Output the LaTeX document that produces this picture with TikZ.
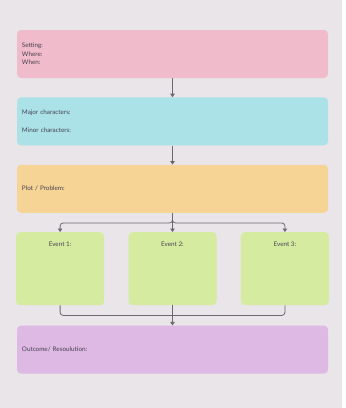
\documentclass[tikz,border=0pt]{standalone}
\usepackage{fontspec}
\setmainfont{Lato}
\usepackage{xcolor}
\usetikzlibrary{arrows.meta,positioning}
\definecolor{pagebg}{RGB}{233,229,233}
\definecolor{pinkbox}{RGB}{240,187,202}
\definecolor{cyanbox}{RGB}{170,226,232}
\definecolor{orangebox}{RGB}{246,212,150}
\definecolor{greenbox}{RGB}{213,236,160}
\definecolor{purplebox}{RGB}{221,185,227}
\definecolor{linkgray}{RGB}{105,105,110}
\definecolor{textgray}{RGB}{70,65,80}

\begin{document}
\begin{tikzpicture}[
  x=1pt, y=-1pt,
  font=\fontsize{6.3}{8.6}\selectfont, text=textgray,
  wide/.style={rounded corners=4pt, minimum width=311pt, minimum height=48pt,
               text width=301pt, align=left, inner sep=5pt},
  event/.style={rounded corners=4pt, fill=greenbox, minimum width=88pt,
                minimum height=73pt, inner sep=0pt},
  arrow/.style={-{Triangle[width=4.5pt,length=3.5pt]}, draw=linkgray, thick},
  link/.style={draw=linkgray, thick, rounded corners=3pt}
]
  \useasboundingbox (0,0) rectangle (346,408);
  \fill[pagebg] (0,0) rectangle (342,408);

  \node[wide, fill=pinkbox] (setting) at (172.5,54) {Setting:\\ Where:\\ When:};
  \node[wide, fill=cyanbox, below=19pt of setting] (characters)
    {Major characters:\\[10pt] Minor characters:};
  \node[wide, fill=orangebox, below=19pt of characters] (plot) {Plot / Problem:};

  \node[event, below=19pt of plot,
        label={[anchor=north, yshift=-6pt]north:Event 2:}] (ev2) {};
  \node[event, left=24pt of ev2,
        label={[anchor=north, yshift=-6pt]north:Event 1:}] (ev1) {};
  \node[event, right=24pt of ev2,
        label={[anchor=north, yshift=-6pt]north:Event 3:}] (ev3) {};

  \node[wide, fill=purplebox, below=20pt of ev2] (outcome) {Outcome/ Resoulution:};

  \draw[arrow] (setting) -- (characters);
  \draw[arrow] (characters) -- (plot);

  % split into the three events
  \coordinate (split) at ([yshift=-10pt]plot.south);
  \draw[arrow] (plot) -- (ev2);
  \draw[arrow, rounded corners=3pt] (plot.south) -- (split) -| (ev1.north);
  \draw[arrow, rounded corners=3pt] (plot.south) -- (split) -| (ev3.north);

  % join back into the outcome
  \coordinate (join) at ([yshift=-10pt]ev2.south);
  \draw[link] (ev1.south) |- (join) -| (ev3.south);
  \draw[arrow] (ev2) -- (outcome);
\end{tikzpicture}
\end{document}
